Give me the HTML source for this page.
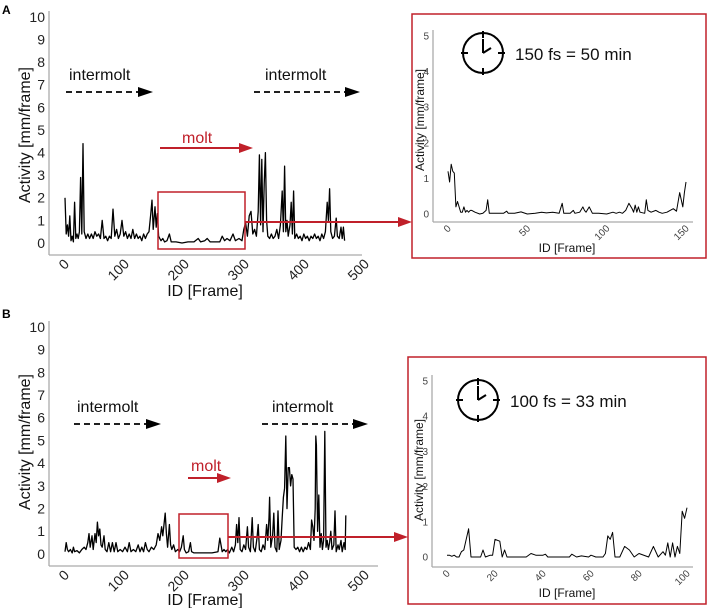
<!DOCTYPE html>
<html><head><meta charset="utf-8"><style>
html,body{margin:0;padding:0;background:#fff;}
svg{display:block;font-family:"Liberation Sans",sans-serif;}
</style></head><body>
<svg id="fig" width="708" height="608" viewBox="0 0 708 608" xmlns="http://www.w3.org/2000/svg">
</svg>
<script>
const aFrames=[0,2,4,6,8,10,12,14,16,18,20,22,24,26,28,30,32,35,38,41,44,47,50,53,56,59,62,65,68,71,74,77,80,83,86,89,92,95,98,101,104,107,110,113,116,119,122,125,128,131,134,137,140,143,145,147,150,152,154,156,158,160,163,166,170,174,177,185,195,205,215,222,226,233,237,242,250,258,262,266,270,275,280,284,290,295,298,301,304,307,310,313,316,319,322,324,326,328,330,332,334,336,338,341,344,347,350,353,356,359,362,364,366,368,370,372,375,377,379,381,383,386,389,392,395,398,401,404,407,410,413,416,419,422,425,428,431,434,437,439,441,443,446,449,452,454,457,460,462,464,466];
const aValues=[2.0,0.4,0.8,0.3,1.2,0.1,0.3,0.05,1.8,0.2,0.4,0.2,0.5,2.9,0.4,4.4,0.5,0.2,0.4,0.2,0.4,0.2,0.5,0.3,0.4,0.2,1.0,0.2,0.3,0.1,0.3,0.2,1.5,0.3,0.6,0.2,0.4,1.0,0.3,0.5,0.2,0.4,0.2,0.6,0.2,0.4,0.2,0.3,0.1,0.4,0.2,0.4,0.5,1.3,1.9,0.6,1.6,0.7,1.3,0.3,0.2,0.1,0.2,0.05,0.1,0.4,0.05,0.05,0.0,0.05,0.05,0.2,0.05,0.1,0.2,0.05,0.05,0.05,0.3,0.1,0.2,0.1,0.4,0.1,0.2,0.1,0.6,0.9,0.3,1.2,1.4,0.4,0.6,0.3,1.4,3.9,0.8,3.7,0.5,2.6,4.0,1.0,0.3,0.2,0.4,0.2,0.3,0.6,0.2,0.8,2.3,0.5,3.4,0.5,1.0,0.3,0.8,1.8,0.4,2.3,0.2,0.4,0.2,0.3,0.1,0.4,0.2,0.3,0.1,0.3,0.2,0.4,0.2,0.3,0.1,0.4,0.2,0.5,1.8,1.0,2.4,0.5,0.2,0.3,1.1,0.3,0.2,0.7,0.2,0.7,0.1];
const bFrames=[0,2,4,6,9,12,14,16,20,24,28,32,35,38,40,42,45,47,50,52,54,56,58,60,62,65,67,70,73,76,79,82,85,88,92,96,100,104,107,110,114,118,122,125,128,131,134,137,140,144,148,152,155,158,161,163,165,167,169,171,174,176,178,181,184,188,191,194,197,199,202,206,209,211,215,225,235,245,255,258,260,262,265,268,271,274,278,281,284,286,288,290,292,295,298,301,304,306,309,312,314,317,320,322,324,327,330,333,336,338,340,341,343,346,348,350,353,355,357,360,362,364,366,368,370,372,374,376,378,380,382,385,388,391,394,397,400,403,406,409,411,413,415,417,418,419,421,423,425,427,429,431,433,435,437,439,441,443,445,448,450,452,455,457,460,462,465,467,468];
const bValues=[0.1,0.5,0.2,0.1,0.2,0.05,0.3,0.1,0.15,0.05,0.2,0.3,0.2,0.5,0.9,0.3,0.8,0.2,0.9,0.5,1.4,0.8,1.1,0.4,0.3,0.8,0.2,0.1,0.5,0.1,0.5,0.1,0.5,0.1,0.2,0.1,0.3,0.1,0.5,0.1,0.2,0.1,0.4,0.1,0.3,0.1,0.5,0.2,0.1,0.3,0.2,0.4,0.9,0.6,1.2,0.8,1.3,1.8,0.9,0.3,1.3,0.4,0.2,0.4,0.1,0.2,0.1,0.3,0.8,0.2,0.05,0.1,0.5,0.1,0.05,0.05,0.05,0.05,0.1,0.7,0.4,0.1,0.2,0.1,0.2,0.05,0.3,0.1,0.4,1.3,0.5,1.6,0.2,0.1,0.4,0.2,1.2,0.3,0.1,1.6,0.3,0.1,0.7,1.3,0.2,0.1,0.4,0.2,1.3,0.6,1.6,2.5,0.3,0.8,1.8,0.3,0.1,1.9,0.2,0.6,1.6,2.5,2.9,5.2,2.0,3.8,3.8,3.0,3.5,3.3,0.3,0.2,0.3,0.1,0.3,0.1,0.3,0.2,0.5,0.2,1.5,1.2,0.6,2.0,5.2,4.8,1.0,2.6,0.3,0.9,0.2,0.6,5.4,0.3,0.6,0.2,0.5,1.0,0.2,0.4,1.9,0.1,0.4,0.2,0.6,0.1,0.5,0.2,1.7];
const iaFrames=[0,1,2,3,4,5,6,7,8,9,10,11,12,13,14,15,17,20,22,24,25,26,30,35,37,38,42,46,50,55,59,62,66,70,72,73,77,79,80,83,85,86,87,89,91,95,100,104,106,108,110,112,114,116,117,118,119,120,121,124,125,126,128,131,133,135,138,140,142,144,146,148,149,150];
const iaValues=[1.2,0.9,1.4,1.2,1.15,0.2,0.35,0.2,0.05,0.05,0.2,0.05,0.1,0.05,0.1,0.1,0.05,0.0,0.02,0.1,0.4,0.02,0.02,0.02,0.08,0.02,0.02,0.06,0.0,0.02,0.05,0.03,0.05,0.02,0.3,0.02,0.02,0.1,0.02,0.05,0.2,0.1,0.05,0.2,0.02,0.02,0.0,0.05,0.02,0.05,0.02,0.1,0.3,0.15,0.05,0.25,0.05,0.2,0.05,0.02,0.4,0.1,0.05,0.1,0.05,0.02,0.05,0.1,0.15,0.08,0.6,0.2,0.6,0.9];
const ibFrames=[0,1,2,3,4,5,6,7,8,9,10,12,14,15,16,18,19,20,22,23,24,25,30,33,35,37,40,41,42,48,51,52,54,56,59,60,62,65,66,67,68,69,70,72,74,76,78,80,84,86,88,90,91,92,93,94,95,96,97,98,99,100];
const ibValues=[0.05,0.05,0.02,0.05,0.0,0.0,0.15,0.2,0.5,0.8,0.0,0.0,0.0,0.2,0.0,0.05,0.05,0.5,0.45,0.0,0.2,0.0,0.0,0.0,0.1,0.05,0.05,0.08,0.0,0.0,0.0,0.08,0.0,0.03,0.0,0.05,0.0,0.0,0.1,0.6,0.5,0.7,0.0,0.0,0.3,0.2,0.0,0.1,0.0,0.3,0.0,0.15,0.05,0.4,0.0,0.4,0.0,0.3,0.1,1.3,1.1,1.4];
const mainYTicks=[0,1,2,3,4,5,6,7,8,9,10];
const mainXTicks=[0,100,200,300,400,500];
const insetYTicks=[0,1,2,3,4,5];
const insetAXTicks=[0,50,100,150];
const insetBXTicks=[0,20,40,60,80,100];

const NS="http://www.w3.org/2000/svg";
const svg=document.getElementById('fig');
function el(tag,attrs,parent,txt){const e=document.createElementNS(NS,tag);for(const k in attrs)e.setAttribute(k,attrs[k]);if(txt!==undefined)e.textContent=txt;(parent||svg).appendChild(e);return e;}

function chart(o){
  const g=el('g',{});
  
  
  const sx=v=>o.x0+(v-o.d0)*(o.x1-o.x0)/(o.d1-o.d0);
  const sy=v=>o.y0-v*(o.y0-o.yTop)/o.yMax;
  const ya=el('line',{x1:o.axX,y1:o.yTop-6,x2:o.axX,y2:o.axY,stroke:'#aaa','stroke-width':1.3},g);
  
  const xa=el('line',{x1:o.axX,y1:o.axY,x2:o.axEnd,y2:o.axY,stroke:'#aaa','stroke-width':1.3},g);
  
  o.yTicks.forEach(t=>{const e=el('text',{x:o.axX-4,y:sy(t)+o.fs*0.35,'text-anchor':'end','font-size':o.fs,fill:o.tc},g,t);});
  o.xTicks.forEach(t=>{const x=sx(t)+o.fs*0.36,y=o.axY+o.fs*0.7;const e=el('text',{x:x,y:y,'text-anchor':'end','font-size':o.fs,fill:o.tc,transform:`rotate(-45 ${x} ${y})`},g,t);});
  let d='';o.fr.forEach((f,i)=>{d+=(i?'L':'M')+sx(f).toFixed(1)+','+sy(o.vals[i]).toFixed(1);});
  const p=el('path',{d:d,fill:'none',stroke:'#000','stroke-width':o.lw,'stroke-linejoin':'round'},g);
  
  const yt=el('text',{x:0,y:0,'text-anchor':'middle','font-size':o.tfs,fill:'#111',transform:`translate(${o.ytX},${o.ytY}) rotate(-90)`},g,'Activity [mm/frame]');
  
  const xt=el('text',{x:o.xtX,y:o.xtY,'text-anchor':'middle','font-size':o.tfs,fill:'#111'},g,'ID [Frame]');
  
}
chart({name:'panel-a-main-chart',x0:65,x1:365,d0:0,d1:500,y0:243,yTop:17,yMax:10,axX:49,axY:255,axEnd:362,yTicks:mainYTicks,xTicks:mainXTicks,fr:aFrames,vals:aValues,fs:14,tfs:16,tc:'#222',lw:1.3,ytX:30,ytY:135,xtX:205,xtY:296});
chart({name:'panel-b-main-chart',x0:65,x1:365,d0:0,d1:500,y0:554,yTop:327,yMax:10,axX:49,axY:566,axEnd:378,yTicks:mainYTicks,xTicks:mainXTicks,fr:bFrames,vals:bValues,fs:14,tfs:16,tc:'#222',lw:1.3,ytX:30,ytY:442,xtX:205,xtY:605});
chart({name:'panel-a-inset-chart',x0:448,x1:686,d0:0,d1:150,y0:214,yTop:36,yMax:5,axX:433,axY:222,axEnd:693,yTicks:insetYTicks,xTicks:insetAXTicks,fr:iaFrames,vals:iaValues,fs:10,tfs:12,tc:'#444',lw:1,ytX:424,ytY:120,xtX:567,xtY:252});
chart({name:'panel-b-inset-chart',x0:447,x1:687,d0:0,d1:100,y0:557,yTop:381,yMax:5,axX:432,axY:567,axEnd:693,yTicks:insetYTicks,xTicks:insetBXTicks,fr:ibFrames,vals:ibValues,fs:10,tfs:12,tc:'#444',lw:1,ytX:423,ytY:470,xtX:567,xtY:597});

function txt(x,y,s,fs,fill,name,w){const e=el('text',{x:x,y:y,'font-size':fs,fill:fill,'font-weight':w||'normal'},svg,s);return e;}
txt(2,14,'A',12,'#000','panel-a-label','bold');
txt(2,318,'B',12,'#000','panel-b-label','bold');
function dashArrow(x1,x2,y,name){const l=el('line',{x1:x1,y1:y,x2:x2-14,y2:y,stroke:'#000','stroke-width':1.8,'stroke-dasharray':'6,4'});const p=el('path',{d:`M${x2-15},${y-5}L${x2},${y}L${x2-15},${y+5}z`,fill:'#000'});}
function redArrow(x1,x2,y,name){const l=el('line',{x1:x1,y1:y,x2:x2-12,y2:y,stroke:'#c0202a','stroke-width':2});const p=el('path',{d:`M${x2-14},${y-5}L${x2},${y}L${x2-14},${y+5}z`,fill:'#c0202a'});}
txt(69,80,'intermolt',16,'#111','intermolt-label-1');dashArrow(66,153,92,'intermolt-arrow-1');
txt(265,80,'intermolt',16,'#111','intermolt-label-2');dashArrow(254,360,92,'intermolt-arrow-2');
txt(182,143,'molt',16,'#c0202a','molt-label');redArrow(160,253,148,'molt-arrow');
txt(77,412,'intermolt',16,'#111','intermolt-label-b1');dashArrow(74,161,424,'intermolt-arrow-b1');
txt(272,412,'intermolt',16,'#111','intermolt-label-b2');dashArrow(262,368,424,'intermolt-arrow-b2');
txt(191,471,'molt',16,'#c0202a','molt-label-b');redArrow(188,231,478,'molt-arrow-b');
function rect(x,y,w,h,name,sw){const r=el('rect',{x:x,y:y,width:w,height:h,fill:'none',stroke:'#c0202a','stroke-width':sw});}
rect(158,192,87,57,'panel-a-zoom-box',1.5);
rect(179,514,49,44,'panel-b-zoom-box',1.5);
rect(412,14,294,244,'panel-a-inset-frame',1.5);
rect(408,357,298,247,'panel-b-inset-frame',1.5);
redArrow(245,412,222,'panel-a-zoom-connector');
redArrow(228,408,537,'panel-b-zoom-connector');
function clock(cx,cy,name){const g=el('g',{});
el('circle',{cx:cx,cy:cy,r:20,fill:'none',stroke:'#000','stroke-width':2},g);
[[0,-1],[1,0],[0,1],[-1,0]].forEach(([dx,dy])=>el('line',{x1:cx+dx*15,y1:cy+dy*15,x2:cx+dx*22,y2:cy+dy*22,stroke:'#000','stroke-width':2},g));
el('line',{x1:cx,y1:cy,x2:cx,y2:cy-14,stroke:'#000','stroke-width':2},g);
el('line',{x1:cx,y1:cy,x2:cx+8,y2:cy-5,stroke:'#000','stroke-width':2},g);}
clock(483,53,'clock-icon-a');clock(478,400,'clock-icon-b');
txt(515,60,'150 fs = 50 min',17,'#111','time-scale-label-a');
txt(510,407,'100 fs = 33 min',17,'#111','time-scale-label-b');
</script>
</body></html>
